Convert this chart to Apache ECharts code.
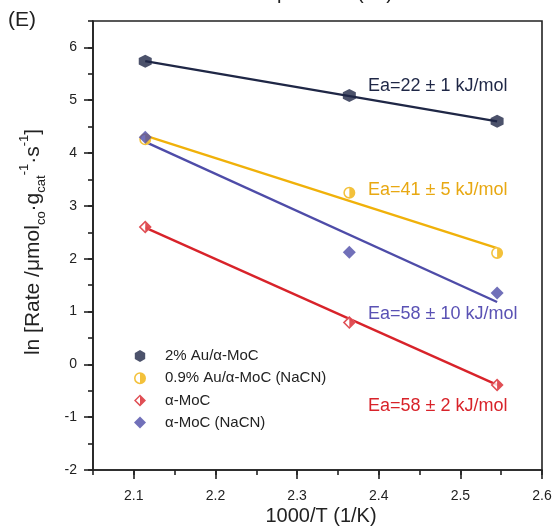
<!DOCTYPE html>
<html>
<head>
<meta charset="utf-8">
<script src="https://cdn.jsdelivr.net/npm/echarts@6/dist/echarts.min.js"></script>
<style>
  html, body { margin: 0; padding: 0; background: #fff; }
  #chart { width: 559px; height: 529px; }
</style>
</head>
<body>
<div id="chart"></div>
<script>
// 1000/T (1/K) for the three reaction temperatures
const invTemp = [2.114, 2.364, 2.545];

// ln(rate) for each catalyst
const auHigh  = [5.74, 5.09, 4.60];   // 2% Au/α-MoC
const auLow   = [4.26, 3.25, 2.11];   // 0.9% Au/α-MoC (NaCN)
const moc     = [2.60, 0.79, -0.39];  // α-MoC
const mocNaCN = [4.30, 2.12, 1.35];   // α-MoC (NaCN)

// Arrhenius fit lines: value at the first and at the last temperature
const fitAuHigh  = [5.74, 4.60];
const fitAuLow   = [4.33, 2.20];
const fitMoc     = [2.59, -0.39];
const fitMocNaCN = [4.21, 1.18];

const seriesNames = ['2% Au/α-MoC', '0.9% Au/α-MoC (NaCN)', 'α-MoC', 'α-MoC (NaCN)'];
const eaLabels = ['Ea=22 ± 1 kJ/mol', 'Ea=41 ± 5 kJ/mol', 'Ea=58 ± 10 kJ/mol', 'Ea=58 ± 2 kJ/mol'];

const xMajorTicks = [2.1, 2.6, 0.1];
const yMajorTicks = [-2, 6, 1];

const C_NAVY = '#1f2746';
const C_GOLD = '#f0b10a';
const C_BLUE = '#4e4ca8';
const C_RED  = '#d8232a';

const FONT = '"Liberation Sans", Arial, Helvetica, sans-serif';

// marker shapes (20x20 boxes)
const HEX = 'path://M10,0 L18.66,5 L18.66,15 L10,20 L1.34,15 L1.34,5 Z';
const HALF_CIRCLE = 'path://M10,0 A10,10 0 1,1 10,20 A10,10 0 1,1 10,0 Z ' +
  'M10,2.6 A7.4,7.4 0 1,0 10,17.4 A7.4,7.4 0 1,0 10,2.6 Z ' +
  'M10,2.6 A7.4,7.4 0 0,1 10,17.4 Z';
const HALF_DIAMOND = 'path://M10,0 L20,10 L10,20 L0,10 Z ' +
  'M10,3.4 L3.4,10 L10,16.6 L16.6,10 Z ' +
  'M10,3.4 L16.6,10 L10,16.6 Z';

const pts = ys => invTemp.map((x, i) => [x, ys[i]]);
const fit = ends => [[invTemp[0], ends[0]], [invTemp[invTemp.length - 1], ends[1]]];

const fitLine = (ends, color) => ({
  type: 'line', data: fit(ends), showSymbol: false, silent: true, z: 2,
  lineStyle: { color: color, width: 2.4 }
});
const markers = (name, ys, symbol, size, color, z) => ({
  type: 'scatter', name: name, data: pts(ys), symbol: symbol, symbolSize: size,
  itemStyle: { color: color }, z: z || 4, silent: true
});

const chart = echarts.init(document.getElementById('chart'), null, { renderer: 'canvas' });

const tickLabel = { color: '#222', fontSize: 14, fontFamily: FONT };
const tickLine = { color: '#222', width: 1.6 };

chart.setOption({
  animation: false,
  backgroundColor: '#fff',
  grid: [
    { left: 93, right: 17, top: 21, bottom: 59, show: true, borderColor: '#222', borderWidth: 1.6, outerBoundsMode: 'none' },
    { left: 133.8, right: 17, top: 21, bottom: 59, outerBoundsMode: 'none' },
    { left: 93, right: 17, top: 47.4, bottom: 59, outerBoundsMode: 'none' }
  ],
  xAxis: [
    { // frame axis with minor ticks
      type: 'value', gridIndex: 0, min: 2.05, max: 2.6, interval: 0.05, position: 'bottom',
      axisLine: { show: true, onZero: false, lineStyle: tickLine },
      axisTick: { show: true, inside: false, length: 5, lineStyle: tickLine },
      axisLabel: { show: false }, splitLine: { show: false }
    },
    { // major ticks and labels
      type: 'value', gridIndex: 1, min: xMajorTicks[0], max: xMajorTicks[1], interval: xMajorTicks[2], position: 'bottom',
      axisLine: { show: false, onZero: false },
      axisTick: { show: true, inside: false, length: 9, lineStyle: tickLine },
      axisLabel: Object.assign({ margin: 19, formatter: v => v.toFixed(1) }, tickLabel),
      splitLine: { show: false }
    },
    { type: 'value', gridIndex: 2, min: 2.05, max: 2.6, show: false, axisLine: { onZero: false } }
  ],
  yAxis: [
    {
      type: 'value', gridIndex: 0, min: -2, max: 6.5, interval: 0.5, position: 'left',
      axisLine: { show: true, onZero: false, lineStyle: tickLine },
      axisTick: { show: true, inside: false, length: 5, lineStyle: tickLine },
      axisLabel: { show: false }, splitLine: { show: false }
    },
    { type: 'value', gridIndex: 1, min: -2, max: 6.5, show: false, axisLine: { onZero: false } },
    {
      type: 'value', gridIndex: 2, min: yMajorTicks[0], max: yMajorTicks[1], interval: yMajorTicks[2], position: 'left',
      axisLine: { show: false, onZero: false },
      axisTick: { show: true, inside: false, length: 9, lineStyle: tickLine },
      axisLabel: Object.assign({ margin: 16 }, tickLabel),
      splitLine: { show: false }
    }
  ],
  legend: {
    orient: 'vertical', left: 129, top: 343.5,
    itemWidth: 12, itemHeight: 12, itemGap: 7.2,
    data: seriesNames,
    textStyle: { color: '#222', fontSize: 15, lineHeight: 15, fontFamily: FONT, padding: [0, 0, 0, 14] },
    selectedMode: false
  },
  series: [
    fitLine(fitAuHigh, C_NAVY),
    fitLine(fitAuLow, C_GOLD),
    fitLine(fitMocNaCN, C_BLUE),
    fitLine(fitMoc, C_RED),
    // white cores behind the half-filled markers
    markers('core-gold', auLow, 'circle', 12, '#fff', 3),
    markers('core-red', moc, 'diamond', 13, '#fff', 3),
    markers(seriesNames[0], auHigh, HEX, 13, C_NAVY),
    markers(seriesNames[1], auLow, HALF_CIRCLE, 12, C_GOLD),
    markers(seriesNames[2], moc, HALF_DIAMOND, 13, C_RED),
    markers(seriesNames[3], mocNaCN, 'diamond', 13, C_BLUE)
  ],
  graphic: [
    { type: 'text', left: 8, top: 10,
      style: { text: '(E)', fontSize: 21, fontFamily: FONT, fill: '#222' } },
    { type: 'text', x: 316, y: 3,
      style: { text: 'Temperature (°C)', fontSize: 20, fontFamily: FONT, fill: '#222', align: 'center', verticalAlign: 'bottom' } },
    { type: 'text', x: 321, y: 516,
      style: { text: '1000/T (1/K)', fontSize: 20, fontFamily: FONT, fill: '#222', align: 'center', verticalAlign: 'middle' } },
    { type: 'text', x: 33, y: 242, rotation: Math.PI / 2,
      style: {
        text: '{n|ln [Rate /μmol}{sb|co}{n|·g}{sb|cat}{sp|-1}{n|·s}{sp|-1}{n|]}',
        align: 'center', verticalAlign: 'middle', fill: '#222', fontFamily: FONT,
        rich: {
          n:  { fontSize: 21, lineHeight: 30, verticalAlign: 'middle', fontFamily: FONT, fill: '#222' },
          sb: { fontSize: 13, lineHeight: 13, verticalAlign: 'bottom', fontFamily: FONT, fill: '#222' },
          sp: { fontSize: 13, lineHeight: 13, verticalAlign: 'top', fontFamily: FONT, fill: '#222' }
        }
      } },
    { type: 'text', x: 368, y: 86,
      style: { text: eaLabels[0], fontSize: 18, fontFamily: FONT, fill: C_NAVY, verticalAlign: 'middle' } },
    { type: 'text', x: 368, y: 190,
      style: { text: eaLabels[1], fontSize: 18, fontFamily: FONT, fill: '#e8a812', verticalAlign: 'middle' } },
    { type: 'text', x: 368, y: 314,
      style: { text: eaLabels[2], fontSize: 18, fontFamily: FONT, fill: '#5a52b4', verticalAlign: 'middle' } },
    { type: 'text', x: 368, y: 406,
      style: { text: eaLabels[3], fontSize: 18, fontFamily: FONT, fill: C_RED, verticalAlign: 'middle' } }
  ]
});
</script>
</body>
</html>
